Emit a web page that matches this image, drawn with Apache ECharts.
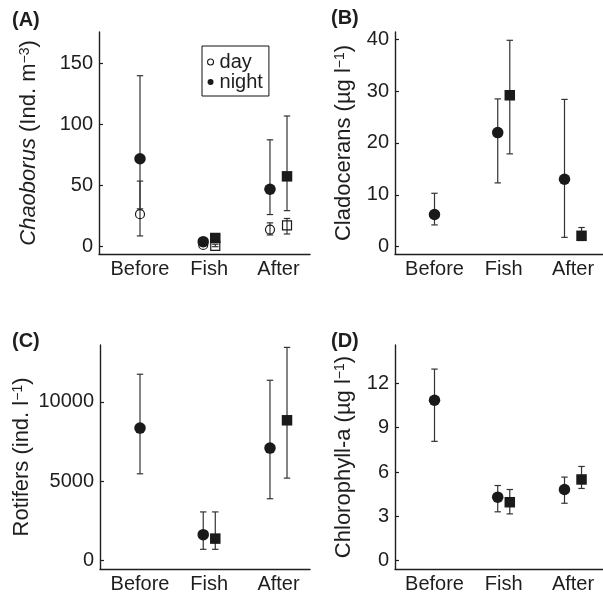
<!DOCTYPE html>
<html>
<head>
<meta charset="utf-8">
<script src="https://cdn.jsdelivr.net/npm/echarts@6/dist/echarts.min.js"></script>
<style>
html,body{margin:0;padding:0;background:#fff;}
#chart{width:603px;height:596px;}
</style>
</head>
<body>
<div id="chart"></div>
<script>
// ---------------- DATA ----------------
const categories = ['Before', 'Fish', 'After'];

// (A) Chaoborus (Ind. m-3)
const chaoTicks = [0, 50, 100, 150];
const chaoNightCircle   = [72, 4.1, 47];
const chaoNightCircleLo = [31, 3.2, 26.3];
const chaoNightCircleHi = [140, 5, 87.5];
const chaoNightSquare   = [null, 7.1, 57.6];
const chaoNightSquareLo = [null, 6.2, 29.5];
const chaoNightSquareHi = [null, 8, 107];
const chaoDayCircle     = [26.6, 1.4, 14];
const chaoDayCircleLo   = [8.8, 0.8, 9.6];
const chaoDayCircleHi   = [53.7, 2, 19.5];
const chaoDaySquare     = [null, 0.6, 17.4];
const chaoDaySquareLo   = [null, 0, 10.4];
const chaoDaySquareHi   = [null, 2, 23.1];

// (B) Cladocerans (µg l-1)
const cladoTicks = [0, 10, 20, 30, 40];
const cladoCircle   = [6.2, 22.0, 13.0];
const cladoCircleLo = [4.2, 12.3, 1.8];
const cladoCircleHi = [10.3, 28.5, 28.4];
const cladoSquare   = [null, 29.2, 2.1];
const cladoSquareLo = [null, 17.9, 1.2];
const cladoSquareHi = [null, 39.8, 3.7];

// (C) Rotifers (ind. l-1)
const rotTicks = [0, 5000, 10000];
const rotCircle   = [8350, 1640, 7090];
const rotCircleLo = [5470, 715, 3900];
const rotCircleHi = [11740, 3070, 11360];
const rotSquare   = [null, 1390, 8840];
const rotSquareLo = [null, 715, 5200];
const rotSquareHi = [null, 3070, 13430];

// (D) Chlorophyll-a (µg l-1)
const chlTicks = [0, 3, 6, 9, 12];
const chlCircle   = [10.86, 4.30, 4.82];
const chlCircleLo = [8.08, 3.31, 3.89];
const chlCircleHi = [12.97, 5.09, 5.66];
const chlSquare   = [null, 3.96, 5.50];
const chlSquareLo = [null, 3.17, 4.89];
const chlSquareHi = [null, 4.82, 6.38];

// ---------------- LAYOUT / STYLE ----------------
const FONT = '"Liberation Sans", Arial, Helvetica, sans-serif';
const INK = '#1e1e1e';
const BAR = '#333';
const dodge = [0, 0.087, 0.123];   // horizontal offset of circle/square within a category

const grids = [
  {left: 99,  top: 32,  width: 211, height: 222},
  {left: 395, top: 32,  width: 208, height: 222},
  {left: 100, top: 345, width: 210, height: 224},
  {left: 395, top: 345, width: 208, height: 224}
];
const xRanges = [[0.408, 3.455], [0.4296, 3.433], [0.422, 3.455], [0.4296, 3.433]];
const yRanges = [[-6, 175.8], [-1.41, 41.4], [-524, 13580], [-0.56, 14.6]];
const yTicks = [chaoTicks, cladoTicks, rotTicks, chlTicks];
const nameGaps = [59, 40, 67, 40];
const yNames = [
  '{i|Chaoborus} (Ind. m{sup|−3})',
  'Cladocerans (µg l{sup|−1})',
  'Rotifers (ind. l{sup|−1})',
  'Chlorophyll-a (µg l{sup|−1})'
];

function xAxisFor(g) {
  return {
    type: 'value', gridIndex: g, min: xRanges[g][0], max: xRanges[g][1],
    splitLine: {show: false},
    axisLine: {show: true, onZero: false, lineStyle: {color: INK, width: 1.4}},
    axisTick: {show: false},
    axisLabel: {
      customValues: [1, 2, 3], margin: 5,
      fontFamily: FONT, fontSize: 20, color: INK,
      formatter: v => categories[Math.round(v) - 1] || ''
    }
  };
}
function yAxisFor(g) {
  return {
    type: 'value', gridIndex: g, min: yRanges[g][0], max: yRanges[g][1],
    splitLine: {show: false},
    axisLine: {show: true, onZero: false, lineStyle: {color: INK, width: 1.4}},
    axisTick: {show: true, inside: true, length: 4, customValues: yTicks[g], lineStyle: {color: INK, width: 1.2}},
    axisLabel: {
      customValues: yTicks[g], margin: 6, fontFamily: FONT, fontSize: 20, color: INK,
      formatter: v => String(v)
    },
    name: yNames[g], nameLocation: 'middle', nameRotate: 90, nameGap: nameGaps[g],
    nameTextStyle: {
      fontFamily: FONT, fontSize: 22, color: INK,
      rich: {
        i: {fontFamily: FONT, fontSize: 22, fontStyle: 'italic', color: INK},
        sup: {fontFamily: FONT, fontSize: 14, color: INK, verticalAlign: 'top', lineHeight: 14}
      }
    }
  };
}

function errorSeries(g, name, means, lo, hi, side) {
  const data = [];
  means.forEach((m, i) => {
    if (m == null) return;
    data.push([i + 1 + side * dodge[i], lo[i], hi[i]]);
  });
  return {
    type: 'custom', name: name, xAxisIndex: g, yAxisIndex: g, z: 2,
    data: data,
    renderItem: function (params, api) {
      const x = api.value(0);
      const pLo = api.coord([x, api.value(1)]);
      const pHi = api.coord([x, api.value(2)]);
      const cw = 3.2;
      const st = {stroke: BAR, lineWidth: 1.2, fill: null};
      return {
        type: 'group',
        children: [
          {type: 'line', shape: {x1: pLo[0], y1: pLo[1], x2: pHi[0], y2: pHi[1]}, style: st},
          {type: 'line', shape: {x1: pLo[0] - cw, y1: pLo[1], x2: pLo[0] + cw, y2: pLo[1]}, style: st},
          {type: 'line', shape: {x1: pHi[0] - cw, y1: pHi[1], x2: pHi[0] + cw, y2: pHi[1]}, style: st}
        ]
      };
    },
    silent: true
  };
}
function pointSeries(g, name, means, side, symbol, filled) {
  const data = [];
  means.forEach((m, i) => {
    if (m == null) return;
    data.push([i + 1 + side * dodge[i], m]);
  });
  const isSq = symbol === 'rect';
  return {
    type: 'scatter', name: name, xAxisIndex: g, yAxisIndex: g, z: filled ? 5 : 4,
    data: data, symbol: symbol,
    symbolSize: filled ? (isSq ? 10.5 : 11.5) : 9,
    itemStyle: filled
      ? {color: '#1a1a1a', borderWidth: 0, opacity: 1}
      : {color: 'rgba(255,255,255,0)', borderColor: '#1a1a1a', borderWidth: 1.2, opacity: 1},
    emphasis: {disabled: true}
  };
}

const series = [
  // A
  errorSeries(0, 'day', chaoDayCircle, chaoDayCircleLo, chaoDayCircleHi, -1),
  errorSeries(0, 'day', chaoDaySquare, chaoDaySquareLo, chaoDaySquareHi, 1),
  errorSeries(0, 'night', chaoNightCircle, chaoNightCircleLo, chaoNightCircleHi, -1),
  errorSeries(0, 'night', chaoNightSquare, chaoNightSquareLo, chaoNightSquareHi, 1),
  pointSeries(0, 'day', chaoDayCircle, -1, 'circle', false),
  pointSeries(0, 'day', chaoDaySquare, 1, 'rect', false),
  pointSeries(0, 'night', chaoNightCircle, -1, 'circle', true),
  pointSeries(0, 'night', chaoNightSquare, 1, 'rect', true),
  // B
  errorSeries(1, 'B circles', cladoCircle, cladoCircleLo, cladoCircleHi, -1),
  errorSeries(1, 'B squares', cladoSquare, cladoSquareLo, cladoSquareHi, 1),
  pointSeries(1, 'B circles', cladoCircle, -1, 'circle', true),
  pointSeries(1, 'B squares', cladoSquare, 1, 'rect', true),
  // C
  errorSeries(2, 'C circles', rotCircle, rotCircleLo, rotCircleHi, -1),
  errorSeries(2, 'C squares', rotSquare, rotSquareLo, rotSquareHi, 1),
  pointSeries(2, 'C circles', rotCircle, -1, 'circle', true),
  pointSeries(2, 'C squares', rotSquare, 1, 'rect', true),
  // D
  errorSeries(3, 'D circles', chlCircle, chlCircleLo, chlCircleHi, -1),
  errorSeries(3, 'D squares', chlSquare, chlSquareLo, chlSquareHi, 1),
  pointSeries(3, 'D circles', chlCircle, -1, 'circle', true),
  pointSeries(3, 'D squares', chlSquare, 1, 'rect', true)
];

const panelLabels = ['(A)', '(B)', '(C)', '(D)'];
const panelPos = [[12, 10], [331, 8], [12, 331], [331, 331]];

const option = {
  animation: false,
  backgroundColor: '#fff',
  textStyle: {fontFamily: FONT},
  grid: grids,
  xAxis: [0, 1, 2, 3].map(xAxisFor),
  yAxis: [0, 1, 2, 3].map(yAxisFor),
  legend: {
    orient: 'vertical', left: 202, top: 46,
    padding: [6, 6, 4, 5],
    itemGap: 0,
    itemWidth: 6, itemHeight: 6,
    borderColor: '#111', borderWidth: 1,
    selectedMode: false,
    textStyle: {fontFamily: FONT, fontSize: 20, color: INK, lineHeight: 17, padding: [0, 0, 0, 1]},
    data: [
      {name: 'day', icon: 'circle', itemStyle: {color: 'rgba(255,255,255,0)', borderColor: '#1a1a1a', borderWidth: 1.1}},
      {name: 'night', icon: 'circle', itemStyle: {color: '#1a1a1a', borderWidth: 0}}
    ]
  },
  graphic: panelLabels.map((t, k) => ({
    type: 'text', left: panelPos[k][0], top: panelPos[k][1],
    style: {text: t, fontFamily: FONT, fontSize: 20, fontWeight: 'bold', fill: INK}
  })),
  series: series
};

const chart = echarts.init(document.getElementById('chart'), null, {renderer: 'canvas'});
chart.setOption(option);
</script>
</body>
</html>
